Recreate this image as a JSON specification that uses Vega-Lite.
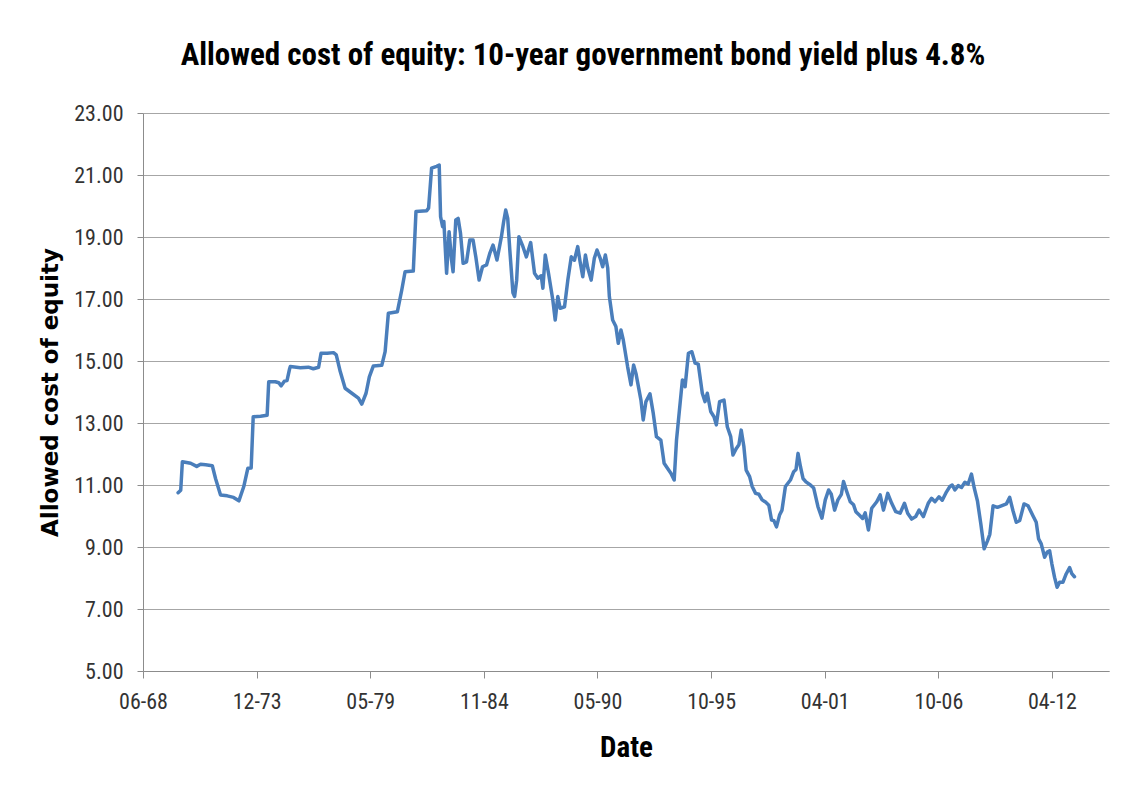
{
  "$schema": "https://vega.github.io/schema/vega-lite/v6.json",
  "width": 966,
  "height": 558,
  "autosize": {"type": "none"},
  "padding": {"left": 143, "top": 113, "right": 35, "bottom": 120},
  "background": "white",
  "title": {
    "text": "Allowed cost of equity: 10-year government bond yield plus 4.8%",
    "font": "Liberation Sans Narrow, Arial Narrow, Roboto Condensed, Liberation Sans, sans-serif",
    "fontSize": 31,
    "fontWeight": "bold",
    "color": "#000000",
    "anchor": "middle",
    "frame": "group",
    "dx": -43,
    "baseline": "alphabetic",
    "offset": 6
  },
  "data": {
    "values": [
      {"d": "1970-02-20", "v": 10.75}, {"d": "1970-04-07", "v": 10.83}, {"d": "1970-05-06", "v": 11.75},
      {"d": "1970-09-29", "v": 11.70}, {"d": "1971-01-13", "v": 11.60}, {"d": "1971-03-22", "v": 11.67},
      {"d": "1971-06-19", "v": 11.65}, {"d": "1971-10-15", "v": 11.62}, {"d": "1971-12-12", "v": 11.20},
      {"d": "1972-03-08", "v": 10.68}, {"d": "1972-07-04", "v": 10.65}, {"d": "1972-10-23", "v": 10.60},
      {"d": "1973-01-25", "v": 10.49}, {"d": "1973-04-21", "v": 10.95}, {"d": "1973-07-01", "v": 11.54},
      {"d": "1973-08-29", "v": 11.55}, {"d": "1973-10-04", "v": 13.20}, {"d": "1974-02-10", "v": 13.22},
      {"d": "1974-06-06", "v": 13.25}, {"d": "1974-07-04", "v": 14.33}, {"d": "1974-10-29", "v": 14.33},
      {"d": "1974-12-27", "v": 14.30}, {"d": "1975-02-08", "v": 14.20}, {"d": "1975-04-05", "v": 14.35},
      {"d": "1975-05-22", "v": 14.37}, {"d": "1975-07-07", "v": 14.75}, {"d": "1975-07-19", "v": 14.82},
      {"d": "1976-01-12", "v": 14.78}, {"d": "1976-06-01", "v": 14.80}, {"d": "1976-08-27", "v": 14.75},
      {"d": "1976-11-28", "v": 14.80}, {"d": "1977-01-10", "v": 15.25}, {"d": "1977-04-28", "v": 15.25},
      {"d": "1977-08-18", "v": 15.27}, {"d": "1977-10-05", "v": 15.20}, {"d": "1977-12-14", "v": 14.66},
      {"d": "1978-03-10", "v": 14.12}, {"d": "1978-07-06", "v": 13.96}, {"d": "1978-10-30", "v": 13.80},
      {"d": "1978-12-28", "v": 13.61}, {"d": "1979-03-13", "v": 13.96}, {"d": "1979-05-10", "v": 14.49},
      {"d": "1979-07-20", "v": 14.84}, {"d": "1979-12-15", "v": 14.86}, {"d": "1980-02-12", "v": 15.30},
      {"d": "1980-04-09", "v": 16.54}, {"d": "1980-09-15", "v": 16.59}, {"d": "1980-12-01", "v": 17.29},
      {"d": "1981-01-28", "v": 17.88}, {"d": "1981-06-22", "v": 17.90}, {"d": "1981-08-08", "v": 19.82},
      {"d": "1982-02-13", "v": 19.85}, {"d": "1982-03-18", "v": 19.93}, {"d": "1982-05-10", "v": 21.22},
      {"d": "1982-08-06", "v": 21.28}, {"d": "1982-09-21", "v": 21.32}, {"d": "1982-10-15", "v": 19.66},
      {"d": "1982-11-20", "v": 19.33}, {"d": "1982-12-12", "v": 19.50}, {"d": "1983-01-29", "v": 17.83},
      {"d": "1983-03-14", "v": 19.17}, {"d": "1983-04-26", "v": 18.26}, {"d": "1983-05-23", "v": 17.88},
      {"d": "1983-07-10", "v": 19.55}, {"d": "1983-08-20", "v": 19.60}, {"d": "1983-10-01", "v": 19.12},
      {"d": "1983-11-16", "v": 18.15}, {"d": "1984-01-15", "v": 18.20}, {"d": "1984-03-12", "v": 18.90},
      {"d": "1984-05-09", "v": 18.90}, {"d": "1984-06-26", "v": 18.36}, {"d": "1984-08-23", "v": 17.61},
      {"d": "1984-10-22", "v": 18.04}, {"d": "1985-01-01", "v": 18.10}, {"d": "1985-02-27", "v": 18.47},
      {"d": "1985-04-25", "v": 18.74}, {"d": "1985-07-04", "v": 18.26}, {"d": "1985-09-20", "v": 19.01},
      {"d": "1985-10-30", "v": 19.50}, {"d": "1985-12-05", "v": 19.87}, {"d": "1986-01-09", "v": 19.60},
      {"d": "1986-02-14", "v": 18.60}, {"d": "1986-04-11", "v": 17.20}, {"d": "1986-05-10", "v": 17.08},
      {"d": "1986-06-15", "v": 17.60}, {"d": "1986-07-25", "v": 19.01}, {"d": "1986-09-24", "v": 18.74},
      {"d": "1986-12-03", "v": 18.36}, {"d": "1987-02-17", "v": 18.82}, {"d": "1987-04-26", "v": 17.83},
      {"d": "1987-06-23", "v": 17.67}, {"d": "1987-08-22", "v": 17.75}, {"d": "1987-09-20", "v": 17.35},
      {"d": "1987-11-01", "v": 18.42}, {"d": "1987-12-28", "v": 17.83}, {"d": "1988-03-13", "v": 16.97},
      {"d": "1988-04-24", "v": 16.32}, {"d": "1988-06-09", "v": 17.08}, {"d": "1988-07-21", "v": 16.70},
      {"d": "1988-10-05", "v": 16.75}, {"d": "1988-12-02", "v": 17.61}, {"d": "1989-02-01", "v": 18.36},
      {"d": "1989-03-28", "v": 18.25}, {"d": "1989-05-25", "v": 18.69}, {"d": "1989-07-06", "v": 18.20},
      {"d": "1989-08-22", "v": 17.72}, {"d": "1989-10-08", "v": 18.42}, {"d": "1989-11-18", "v": 18.00},
      {"d": "1990-01-17", "v": 17.61}, {"d": "1990-03-13", "v": 18.31}, {"d": "1990-04-30", "v": 18.58},
      {"d": "1990-06-27", "v": 18.30}, {"d": "1990-08-07", "v": 18.04}, {"d": "1990-09-24", "v": 18.42},
      {"d": "1990-11-04", "v": 18.00}, {"d": "1990-12-03", "v": 17.08}, {"d": "1991-01-30", "v": 16.32},
      {"d": "1991-03-28", "v": 16.11}, {"d": "1991-05-09", "v": 15.57}, {"d": "1991-06-25", "v": 16.00},
      {"d": "1991-08-05", "v": 15.68}, {"d": "1991-10-20", "v": 14.82}, {"d": "1991-12-19", "v": 14.23},
      {"d": "1992-02-03", "v": 14.87}, {"d": "1992-03-15", "v": 14.60}, {"d": "1992-06-11", "v": 13.74},
      {"d": "1992-07-21", "v": 13.10}, {"d": "1992-09-07", "v": 13.69}, {"d": "1992-11-17", "v": 13.94},
      {"d": "1993-01-14", "v": 13.31}, {"d": "1993-03-11", "v": 12.56}, {"d": "1993-05-27", "v": 12.45},
      {"d": "1993-07-24", "v": 11.70}, {"d": "1993-09-21", "v": 11.54}, {"d": "1993-11-20", "v": 11.38},
      {"d": "1994-01-17", "v": 11.16}, {"d": "1994-02-27", "v": 12.45}, {"d": "1994-04-14", "v": 13.31},
      {"d": "1994-06-11", "v": 14.39}, {"d": "1994-07-28", "v": 14.17}, {"d": "1994-09-25", "v": 15.25},
      {"d": "1994-11-24", "v": 15.30}, {"d": "1995-01-21", "v": 14.93}, {"d": "1995-03-17", "v": 14.90},
      {"d": "1995-05-27", "v": 13.96}, {"d": "1995-07-14", "v": 13.69}, {"d": "1995-08-23", "v": 13.96},
      {"d": "1995-10-22", "v": 13.37}, {"d": "1995-12-19", "v": 13.20}, {"d": "1996-01-29", "v": 12.94},
      {"d": "1996-03-27", "v": 13.69}, {"d": "1996-06-12", "v": 13.74}, {"d": "1996-08-09", "v": 12.88},
      {"d": "1996-10-08", "v": 12.56}, {"d": "1996-11-17", "v": 11.97}, {"d": "1997-01-15", "v": 12.18},
      {"d": "1997-03-01", "v": 12.30}, {"d": "1997-04-11", "v": 12.77}, {"d": "1997-05-28", "v": 12.24},
      {"d": "1997-07-07", "v": 11.48}, {"d": "1997-09-06", "v": 11.27}, {"d": "1997-10-21", "v": 10.95},
      {"d": "1997-12-20", "v": 10.73}, {"d": "1998-02-17", "v": 10.70}, {"d": "1998-04-14", "v": 10.52},
      {"d": "1998-06-13", "v": 10.45}, {"d": "1998-08-10", "v": 10.35}, {"d": "1998-09-27", "v": 9.87},
      {"d": "1998-11-07", "v": 9.85}, {"d": "1998-12-23", "v": 9.65}, {"d": "1999-02-15", "v": 10.03},
      {"d": "1999-03-30", "v": 10.19}, {"d": "1999-05-29", "v": 10.95}, {"d": "1999-08-25", "v": 11.16},
      {"d": "1999-10-22", "v": 11.43}, {"d": "1999-12-02", "v": 11.50}, {"d": "2000-01-06", "v": 12.02},
      {"d": "2000-02-18", "v": 11.59}, {"d": "2000-04-03", "v": 11.21}, {"d": "2000-05-25", "v": 11.10},
      {"d": "2000-08-11", "v": 11.00}, {"d": "2000-10-08", "v": 10.90}, {"d": "2000-12-22", "v": 10.30},
      {"d": "2001-03-02", "v": 9.93}, {"d": "2001-04-30", "v": 10.52}, {"d": "2001-06-27", "v": 10.84},
      {"d": "2001-08-14", "v": 10.70}, {"d": "2001-10-11", "v": 10.19}, {"d": "2001-12-08", "v": 10.52},
      {"d": "2002-02-07", "v": 10.70}, {"d": "2002-03-17", "v": 11.11}, {"d": "2002-05-14", "v": 10.78},
      {"d": "2002-07-13", "v": 10.46}, {"d": "2002-09-10", "v": 10.36}, {"d": "2002-10-20", "v": 10.14},
      {"d": "2002-12-19", "v": 10.03}, {"d": "2003-02-16", "v": 9.92}, {"d": "2003-04-02", "v": 10.10},
      {"d": "2003-05-29", "v": 9.55}, {"d": "2003-07-26", "v": 10.25}, {"d": "2003-10-23", "v": 10.46},
      {"d": "2003-12-22", "v": 10.68}, {"d": "2004-02-18", "v": 10.19}, {"d": "2004-05-03", "v": 10.73},
      {"d": "2004-07-12", "v": 10.41}, {"d": "2004-09-21", "v": 10.14}, {"d": "2004-12-07", "v": 10.09},
      {"d": "2005-02-22", "v": 10.41}, {"d": "2005-04-19", "v": 10.09}, {"d": "2005-06-28", "v": 9.90},
      {"d": "2005-09-07", "v": 9.98}, {"d": "2005-11-06", "v": 10.19}, {"d": "2006-01-20", "v": 9.98},
      {"d": "2006-04-16", "v": 10.41}, {"d": "2006-06-14", "v": 10.57}, {"d": "2006-08-13", "v": 10.46},
      {"d": "2006-10-22", "v": 10.62}, {"d": "2006-12-19", "v": 10.51}, {"d": "2007-03-04", "v": 10.78},
      {"d": "2007-05-02", "v": 10.95}, {"d": "2007-06-12", "v": 11.00}, {"d": "2007-07-29", "v": 10.84},
      {"d": "2007-09-26", "v": 10.98}, {"d": "2007-11-23", "v": 10.92}, {"d": "2008-01-21", "v": 11.09},
      {"d": "2008-03-19", "v": 11.03}, {"d": "2008-05-16", "v": 11.35}, {"d": "2008-07-02", "v": 10.92},
      {"d": "2008-08-29", "v": 10.49}, {"d": "2008-10-28", "v": 9.74}, {"d": "2008-12-25", "v": 8.94},
      {"d": "2009-02-22", "v": 9.20}, {"d": "2009-04-04", "v": 9.41}, {"d": "2009-06-01", "v": 10.33},
      {"d": "2009-08-15", "v": 10.28}, {"d": "2009-10-24", "v": 10.33}, {"d": "2010-01-21", "v": 10.39},
      {"d": "2010-03-20", "v": 10.60}, {"d": "2010-05-17", "v": 10.17}, {"d": "2010-07-14", "v": 9.80},
      {"d": "2010-09-13", "v": 9.86}, {"d": "2010-11-27", "v": 10.39}, {"d": "2011-02-06", "v": 10.33},
      {"d": "2011-05-03", "v": 10.01}, {"d": "2011-06-30", "v": 9.80}, {"d": "2011-08-11", "v": 9.26},
      {"d": "2011-09-26", "v": 9.10}, {"d": "2011-11-25", "v": 8.67}, {"d": "2012-01-10", "v": 8.84},
      {"d": "2012-02-21", "v": 8.88}, {"d": "2012-04-01", "v": 8.45}, {"d": "2012-05-18", "v": 8.02},
      {"d": "2012-07-02", "v": 7.70}, {"d": "2012-08-14", "v": 7.86}, {"d": "2012-10-11", "v": 7.86},
      {"d": "2012-12-08", "v": 8.13}, {"d": "2013-02-07", "v": 8.34}, {"d": "2013-03-17", "v": 8.14},
      {"d": "2013-05-03", "v": 8.04}
    ]
  },
  "mark": {"type": "line", "color": "#4A7EBB", "strokeWidth": 3.5, "strokeJoin": "round", "strokeCap": "round"},
  "encoding": {
    "x": {
      "field": "d",
      "type": "temporal",
      "title": "Date",
      "scale": {
        "type": "utc",
        "domain": [
          {"year": 1968, "month": 6, "date": 12, "utc": true},
          {"year": 2015, "month": 1, "date": 1, "utc": true}
        ]
      },
      "axis": {
        "values": [
          {"year": 1968, "month": 6, "date": 12, "utc": true},
          {"year": 1973, "month": 12, "date": 3, "utc": true},
          {"year": 1979, "month": 5, "date": 26, "utc": true},
          {"year": 1984, "month": 11, "date": 15, "utc": true},
          {"year": 1990, "month": 5, "date": 8, "utc": true},
          {"year": 1995, "month": 10, "date": 29, "utc": true},
          {"year": 2001, "month": 4, "date": 20, "utc": true},
          {"year": 2006, "month": 10, "date": 11, "utc": true},
          {"year": 2012, "month": 4, "date": 2, "utc": true}
        ],
        "labelExpr": "utcFormat(datum.value, '%m-%y')",
        "grid": false,
        "domainColor": "#8c8c8c",
        "tickColor": "#8c8c8c",
        "tickSize": 7,
        "labelFont": "Liberation Sans Narrow, Arial Narrow, Roboto Condensed, Liberation Sans, sans-serif",
        "labelFontSize": 22,
        "labelColor": "#333333",
        "labelPadding": 13,
        "labelFlush": false,
        "labelOverlap": false,
        "titleFont": "Liberation Sans Narrow, Arial Narrow, Roboto Condensed, Liberation Sans, sans-serif",
        "titleFontSize": 29,
        "titleFontWeight": "bold",
        "titleColor": "#000000",
        "titlePadding": 21
      }
    },
    "y": {
      "field": "v",
      "type": "quantitative",
      "title": "Allowed cost of equity",
      "scale": {"domain": [5, 23], "nice": false, "zero": false},
      "axis": {
        "values": [5, 7, 9, 11, 13, 15, 17, 19, 21, 23],
        "format": ".2f",
        "grid": true,
        "gridColor": "#a6a6a6",
        "gridWidth": 1,
        "domainColor": "#8c8c8c",
        "tickColor": "#8c8c8c",
        "tickSize": 6,
        "labelFont": "Liberation Sans Narrow, Arial Narrow, Roboto Condensed, Liberation Sans, sans-serif",
        "labelFontSize": 22,
        "labelColor": "#333333",
        "labelPadding": 14,
        "titleFont": "DejaVu Sans",
        "titleFontSize": 23,
        "titleFontWeight": "bold",
        "titleColor": "#000000",
        "titlePadding": 11
      }
    }
  },
  "config": {"view": {"stroke": null}}
}
